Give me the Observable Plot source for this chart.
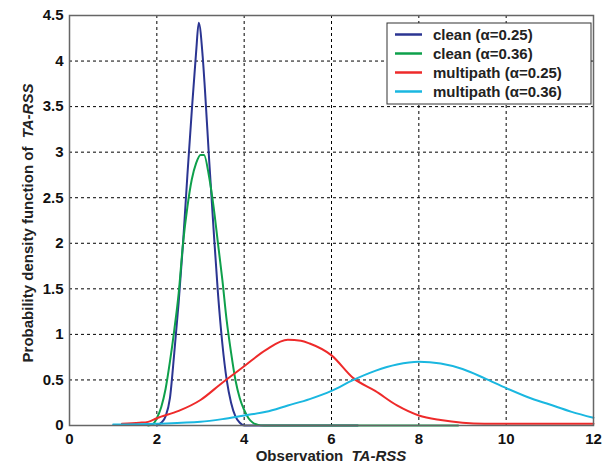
<!DOCTYPE html>
<html>
<head>
<meta charset="utf-8">
<script src="https://cdn.jsdelivr.net/npm/d3@7"></script>
<script src="https://cdn.jsdelivr.net/npm/@observablehq/plot@0.6"></script>
<style>
  html, body { margin: 0; padding: 0; background: #fff; }
  #chart { width: 611px; height: 469px; }
</style>
</head>
<body>
<div id="chart"></div>
<script>
// ---- data ----
const seriesNames = ["clean (α=0.25)", "clean (α=0.36)", "multipath (α=0.25)", "multipath (α=0.36)"];
const seriesColors = ["#2b3592", "#0ea04b", "#ee2a2a", "#1ab7e0"];

const cleanA25X = [2.0, 2.1, 2.2, 2.3, 2.4, 2.5, 2.6, 2.7, 2.8, 2.9, 2.96, 3.05, 3.1, 3.2, 3.3, 3.4, 3.5, 3.6, 3.7, 3.8, 3.9, 4.0, 6.6];
const cleanA25Y = [0.0, 0.03, 0.1, 0.3, 0.8, 1.35, 2.0, 2.75, 3.45, 4.1, 4.42, 4.05, 3.7, 2.9, 2.15, 1.45, 0.9, 0.5, 0.25, 0.1, 0.03, 0.0, 0.0];

const cleanA36X = [1.8, 1.9, 2.0, 2.1, 2.2, 2.3, 2.4, 2.5, 2.6, 2.7, 2.8, 2.9, 3.0, 3.08, 3.2, 3.3, 3.4, 3.5, 3.6, 3.7, 3.8, 3.9, 4.0, 4.1, 4.2, 4.3, 4.45, 8.9];
const cleanA36Y = [0.0, 0.01, 0.08, 0.2, 0.4, 0.7, 1.05, 1.45, 2.0, 2.4, 2.7, 2.88, 2.97, 2.97, 2.72, 2.4, 2.0, 1.6, 1.15, 0.8, 0.5, 0.3, 0.17, 0.08, 0.03, 0.01, 0.0, 0.0];

const multiA25X = [1.2, 1.6, 1.8, 2.0, 2.5, 3.0, 3.5, 4.0, 4.5, 5.0, 5.3, 5.5, 6.0, 6.5, 7.0, 7.5, 8.0, 8.5, 9.0, 9.5, 12.0];
const multiA25Y = [0.02, 0.03, 0.04, 0.08, 0.16, 0.28, 0.47, 0.65, 0.83, 0.94, 0.93, 0.9, 0.77, 0.52, 0.38, 0.22, 0.11, 0.06, 0.03, 0.02, 0.02];

const multiA36X = [1.0, 2.0, 3.0, 3.5, 4.0, 4.5, 5.0, 5.5, 6.0, 6.5, 7.0, 7.5, 8.0, 8.5, 9.0, 9.5, 10.0, 10.5, 11.0, 11.5, 12.0];
const multiA36Y = [0.01, 0.02, 0.04, 0.07, 0.11, 0.15, 0.22, 0.29, 0.38, 0.5, 0.6, 0.67, 0.7, 0.68, 0.62, 0.52, 0.41, 0.31, 0.23, 0.15, 0.085];

const xTicks = [0, 2, 4, 6, 8, 10, 12];
const yTicks = [0, 0.5, 1, 1.5, 2, 2.5, 3, 3.5, 4, 4.5];
const xTickLabels = ["0", "2", "4", "6", "8", "10", "12"];
const yTickLabels = ["0", "0.5", "1", "1.5", "2", "2.5", "3", "3.5", "4", "4.5"];

// ---- build rows ----
const allX = [cleanA25X, cleanA36X, multiA25X, multiA36X];
const allY = [cleanA25Y, cleanA36Y, multiA25Y, multiA36Y];
const rows = [];
allX.forEach((xs, s) => xs.forEach((x, i) => rows.push({series: seriesNames[s], x, y: allY[s][i]})));

const W = 611, H = 469;
const mL = 69, mR = 18, mT = 15, mB = 44;
const FONT = "'Liberation Sans', Arial, Helvetica, sans-serif";

const chart = Plot.plot({
  width: W,
  height: H,
  marginLeft: mL,
  marginRight: mR,
  marginTop: mT,
  marginBottom: mB,
  style: {fontFamily: FONT, fontSize: "15px", fontWeight: "bold", color: "#111", background: "#fff", overflow: "visible"},
  x: {domain: [0, 12]},
  y: {domain: [0, 4.5]},
  color: {domain: seriesNames, range: seriesColors},
  marks: [
    Plot.gridX(xTicks.slice(1, -1), {stroke: "#000", strokeOpacity: 1, strokeWidth: 1, strokeDasharray: "3,3"}),
    Plot.gridY(yTicks.slice(1, -1), {stroke: "#000", strokeOpacity: 1, strokeWidth: 1, strokeDasharray: "3,3"}),
    Plot.axisX(xTicks, {tickSize: 0, tickPadding: 8, label: null, fontSize: 15, fontWeight: "bold",
      tickFormat: d => xTickLabels[xTicks.indexOf(d)]}),
    Plot.axisY(yTicks, {tickSize: 0, tickPadding: 6, label: null, fontSize: 15, fontWeight: "bold",
      tickFormat: d => yTickLabels[yTicks.indexOf(d)]}),
    Plot.line(rows, {x: "x", y: "y", z: "series", stroke: "series", strokeWidth: 2, curve: "monotone-x"}),
    Plot.frame({stroke: "#666", strokeWidth: 1.5})
  ]
});

document.getElementById("chart").appendChild(chart);

// ---- axis titles and legend ----
const svg = d3.select(chart);
const plotCx = mL + (W - mL - mR) / 2;
const plotCy = mT + (H - mT - mB) / 2;

const xl = svg.append("text")
  .attr("x", plotCx).attr("y", 461)
  .attr("text-anchor", "middle")
  .style("font-family", FONT).style("font-size", "15px").style("font-weight", "bold").attr("fill", "#222");
xl.append("tspan").text("Observation\u00a0\u00a0");
xl.append("tspan").attr("font-style", "italic").text("TA-RSS");

const yl = svg.append("text")
  .attr("transform", `translate(33,${plotCy + 3}) rotate(-90)`)
  .attr("text-anchor", "middle")
  .style("font-family", FONT).style("font-size", "15px").style("font-weight", "bold").attr("fill", "#222");
yl.append("tspan").text("Probability density function of\u00a0\u00a0");
yl.append("tspan").attr("font-style", "italic").text("TA-RSS");

const lg = svg.append("g");
lg.append("rect").attr("x", 387).attr("y", 23).attr("width", 204).attr("height", 81)
  .attr("fill", "#fff").attr("stroke", "#333").attr("stroke-width", 1);
seriesNames.forEach((name, i) => {
  const cy = 34.5 + i * 19;
  lg.append("line").attr("x1", 395).attr("x2", 422).attr("y1", cy).attr("y2", cy)
    .attr("stroke", seriesColors[i]).attr("stroke-width", 2.5);
  lg.append("text").attr("x", 433).attr("y", cy).attr("dy", "0.35em")
    .attr("text-anchor", "start")
    .style("font-family", FONT).style("font-size", "15px").style("font-weight", "bold")
    .attr("fill", "#222").text(name);
});
</script>
</body>
</html>
